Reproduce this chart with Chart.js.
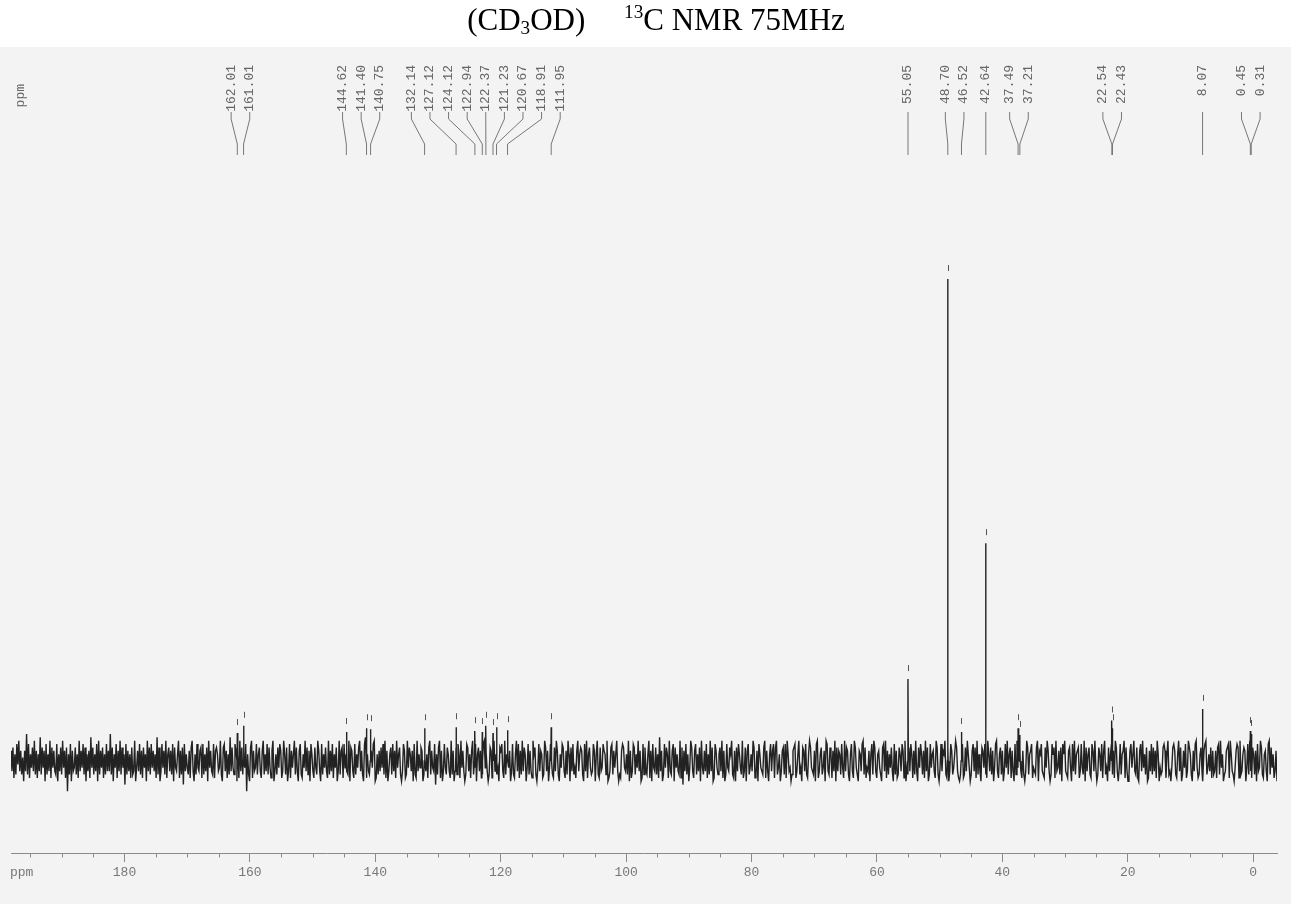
<!DOCTYPE html>
<html>
<head>
<meta charset="utf-8">
<title>13C NMR (CD3OD)</title>
<script src="https://cdn.jsdelivr.net/npm/chart.js@4.4.1/dist/chart.umd.min.js"></script>
<style>
    html, body { margin: 0; padding: 0; background: #fff; }
    #wrap { position: relative; width: 1291px; height: 904px; overflow: hidden; }
    #spectrum { position: absolute; left: 0; top: 0; }
    #title {
        position: absolute; left: 0; top: 2px; width: 1312px;
        text-align: center; white-space: nowrap; color: #000;
        font: 31px "Liberation Serif", "Times New Roman", serif;
    }
    #title sub { font-size: 0.62em; vertical-align: -0.22em; line-height: 0; }
    #title sup { font-size: 0.62em; vertical-align: 0.62em; line-height: 0; }
</style>
</head>
<body>
<div id="wrap">
    <canvas id="spectrum" width="1291" height="904"></canvas>
    <div id="title">(CD<sub>3</sub>OD)&nbsp;&nbsp;&nbsp;&nbsp;&nbsp;<sup>13</sup>C NMR 75MHz</div>
</div>
<script>
// ===== DATA =====
// picked peaks (ppm) and their heights (solvent peak at 48.70 = 100)
var peakShifts = [162.01, 161.01, 144.62, 141.40, 140.75, 132.14, 127.12, 124.12,
                  122.94, 122.37, 121.23, 120.67, 118.91, 111.95,
                  55.05, 48.70, 46.52, 42.64, 37.49, 37.21, 22.54, 22.43, 8.07, 0.45, 0.31];
var peakHeights = [5.8, 7.3, 6.0, 6.8, 6.6, 6.8, 7.0, 6.2,
                   6.0, 7.3, 5.8, 7.0, 6.4, 7.0,
                   17.0, 100, 6.0, 45.2, 6.8, 5.4, 8.4, 6.8, 10.8, 6.2, 5.6];

// spectral window (ppm), left to right
var X_LEFT = 198.1;
var X_RIGHT = -3.8;

// axis ticks (ppm)
var majorTicks = [180, 160, 140, 120, 100, 80, 60, 40, 20, 0];
var minorStep = 5;

// baseline noise, one letter per sample: 'k' = 0, each letter step = 0.7
var noiseTrace = [
    'nhofmgpjqhnglenhsgpfmiohqgnfmhrgoinepgmhqfoinhgpemhogqinfobmgpenhi',
    'ogmfqhnipgoemhnfriogmhpeqgniofmgphnhsgoemipfnhqgoimdpgnhmfoghqein',
    'hpgnfoimeqhogpinhmfrgoehpingqfmohngpeoihmqfngodphmignfoqhemgpihno',
    'fpgmhoeqinhgpfnomhiqgeophnfmgrhoigpnemfqhognipbmgeoqfnhipgmohfnqg',
    'mhpgoifnqehmgoipnfhqmgoehpfnimqgohenpgfmiqhognepmhfoigqnhepgmiohf',
    'qgnhpfmioehqgnofpimhgqeonhfpgmioqhngeprfmhgonipqefmgnhoipgqfnehmo',
    'gphnfqimogehpnfgqiomhnepgfqhmionegphmfoqgnihpdmgoqfnehpigomhfqgne',
    'hogpmfqinhegpohmfnqgipemohnfgpqimhegonfpqhmgieonphfqgmoinehpgfmqh',
    'pfngqhomeipgnhfqmogeiphnmfgqohneipmgfohqngemipohfngqmeohpgifnqhmo',
    'ngephqfmoighpnemqgfohipnmgqefhopgnimqhegfnpoihmgqenfhpogmiqhnefpg',
    'ohgmqfnepihogmfrhnegpiomfqhgnpeoimhgqfodnhpgmeiqohfnpgmhoeqignhpf',
    'mgqhoefpnigmohqfnegpihomqgfneohpmigqfhoenpgimhqofgnepmihgoqfnhemp',
    'hnpfoqgimehnogpfqmhiegnopfhmqgieonhpgfmqoihgnepqfhmogineqphgomfnh',
    'qeohnmgpifqhongemphfqoigenmhpqgofihnempgqohfmnigeophqfngmiohepgnf',
    'gomhpnfqeigohpmfngqheoipmgnfqhoegpimnhfqogeiphnmqgfoehpngimqohfeg',
    'npfgohqmiegnphofqgmheonipgfqmhogneipqhfmognehpiqgmofnhepgqimohfng',
    'ehqogmnpfihgoqenmphgfoiqnhegpmofqhingoepmqhgfnoiephqgmnofhpigqeoh',
    'mogfpnhqiegomhpfnqgieohmpgnfqoheipgmnqfohegnpimqhgofenphqimgoefnh',
    'pgohnfqmeighopnfmqgheiopngfmqhoegnipfhqomgenhpqifgmohenpqgimhofng',
    'hnfopgqimeghnopfqmhgeinpofqghmoneipgqhfomgnephiqogfmnhepqgoimfhne'
].join('');

// ===== SPECTRUM POINTS =====
function noiseValue(ch) {
    return (ch.charCodeAt(0) - 107) * 0.7;
}

function buildSpectrum() {
    var pts = [];
    var n = noiseTrace.length;
    var step = (X_LEFT - X_RIGHT) / (n - 1);
    for (var i = 0; i < n; i++) {
        pts.push({ x: X_LEFT - i * step, y: noiseValue(noiseTrace[i]) });
    }
    // each peak is a narrow spike standing on the baseline
    peakShifts.forEach(function(p, i) {
        pts.push({ x: p + 0.06, y: 0 });
        pts.push({ x: p, y: peakHeights[i] });
        pts.push({ x: p - 0.06, y: 0 });
    });
    pts.sort(function(a, b) { return b.x - a.x; });
    return pts;
}

// spread crowded labels apart, keeping each cluster centred on its peaks
function spreadLabels(xs, gap) {
    var groups = [];
    xs.forEach(function(x) {
        groups.push({ sum: x, n: 1 });
        while (groups.length > 1) {
            var b = groups[groups.length - 1], a = groups[groups.length - 2];
            var aEnd = a.sum / a.n + (a.n - 1) * gap / 2;
            var bStart = b.sum / b.n - (b.n - 1) * gap / 2;
            if (bStart - aEnd >= gap) break;
            groups.splice(-2, 2, { sum: a.sum + b.sum, n: a.n + b.n });
        }
    });
    var out = [];
    groups.forEach(function(g) {
        var s = g.sum / g.n - (g.n - 1) * gap / 2;
        for (var k = 0; k < g.n; k++) out.push(s + k * gap);
    });
    return out;
}

// ===== PLUGINS =====
var paperBackground = {
    id: 'paperBackground',
    beforeDraw: function(chart) {
        var ctx = chart.ctx;
        ctx.save();
        ctx.fillStyle = '#ffffff';
        ctx.fillRect(0, 0, chart.width, chart.height);
        ctx.fillStyle = '#f3f3f3';
        ctx.fillRect(0, 47, chart.width, chart.height - 47);
        ctx.restore();
    }
};

var minorTicks = {
    id: 'minorTicks',
    afterDraw: function(chart) {
        var ctx = chart.ctx, xs = chart.scales.x;
        var y0 = chart.chartArea.bottom;
        ctx.save();
        ctx.strokeStyle = '#8a8a8a';
        ctx.lineWidth = 1;
        ctx.beginPath();
        for (var v = 0; v <= X_LEFT; v += minorStep) {
            if (majorTicks.indexOf(v) !== -1) continue;
            var x = Math.round(xs.getPixelForValue(v)) + 0.5;
            ctx.moveTo(x, y0);
            ctx.lineTo(x, y0 + 4.5);
        }
        ctx.stroke();
        ctx.fillStyle = '#777';
        ctx.font = '13px "Liberation Mono", "DejaVu Sans Mono", monospace';
        ctx.textBaseline = 'middle';
        ctx.textAlign = 'left';
        ctx.fillText('ppm', 10, y0 + 20);
        ctx.restore();
    }
};

var peakMarks = {
    id: 'peakMarks',
    afterDatasetsDraw: function(chart) {
        var ctx = chart.ctx, xs = chart.scales.x, ys = chart.scales.y;
        ctx.save();
        ctx.strokeStyle = '#555';
        ctx.lineWidth = 1;
        ctx.beginPath();
        peakShifts.forEach(function(p, i) {
            var x = Math.round(xs.getPixelForValue(p)) + 0.5;
            var y = ys.getPixelForValue(peakHeights[i]);
            ctx.moveTo(x, y - 14);
            ctx.lineTo(x, y - 8);
        });
        ctx.stroke();
        ctx.restore();
    }
};

var peakLabels = {
    id: 'peakLabels',
    afterDraw: function(chart) {
        var ctx = chart.ctx, xs = chart.scales.x;
        var px = peakShifts.map(function(p) { return xs.getPixelForValue(p); });
        var lx = spreadLabels(px, 18.6);
        ctx.save();
        ctx.strokeStyle = '#777';
        ctx.lineWidth = 1;
        ctx.beginPath();
        px.forEach(function(x, i) {
            ctx.moveTo(lx[i], 112);
            ctx.lineTo(lx[i], 119);
            ctx.lineTo(x, 144);
            ctx.lineTo(x, 155);
        });
        ctx.stroke();

        ctx.fillStyle = '#666';
        ctx.font = '13px "Liberation Mono", "DejaVu Sans Mono", monospace';
        ctx.textAlign = 'right';
        ctx.textBaseline = 'middle';
        peakShifts.forEach(function(p, i) {
            ctx.save();
            ctx.translate(lx[i], 65);
            ctx.rotate(-Math.PI / 2);
            ctx.fillText(p.toFixed(2), 0, 0);
            ctx.restore();
        });
        ctx.save();
        ctx.translate(21, 84);
        ctx.rotate(-Math.PI / 2);
        ctx.fillText('ppm', 0, 0);
        ctx.restore();
        ctx.restore();
    }
};

// ===== CHART =====
function initSpectrum() {
    var ctx = document.getElementById('spectrum').getContext('2d');
    new Chart(ctx, {
        type: 'line',
        data: {
            datasets: [{
                data: buildSpectrum(),
                borderColor: '#222',
                borderWidth: 1.4,
                pointRadius: 0,
                tension: 0,
                fill: false
            }]
        },
        options: {
            responsive: false,
            animation: false,
            devicePixelRatio: 1,
            layout: { padding: { top: 160, left: 11, right: 14, bottom: 20.4 } },
            plugins: {
                legend: { display: false },
                tooltip: { enabled: false },
                title: { display: false }
            },
            scales: {
                x: {
                    type: 'linear',
                    reverse: true,
                    min: X_RIGHT,
                    max: X_LEFT,
                    border: { display: true, color: '#8a8a8a', width: 1 },
                    grid: {
                        drawOnChartArea: false,
                        drawTicks: true,
                        tickLength: 9,
                        color: '#8a8a8a'
                    },
                    afterBuildTicks: function(scale) {
                        scale.ticks = majorTicks.map(function(v) { return { value: v }; });
                    },
                    ticks: {
                        color: '#777',
                        padding: 3,
                        maxRotation: 0,
                        autoSkip: false,
                        font: { family: '"Liberation Mono", "DejaVu Sans Mono", monospace', size: 13 }
                    }
                },
                y: {
                    display: false,
                    min: -19.09,
                    max: 124.69
                }
            }
        },
        plugins: [paperBackground, minorTicks, peakMarks, peakLabels]
    });
}

document.addEventListener('DOMContentLoaded', initSpectrum);
</script>
</body>
</html>
